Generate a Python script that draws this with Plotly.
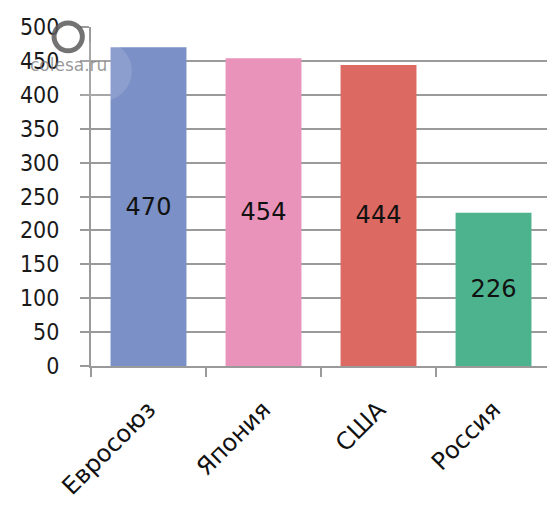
import plotly.graph_objects as go

# Chart data
categories = ["Евросоюз", "Япония", "США", "Россия"]
values = [470, 454, 444, 226]
bar_colors = ["#7b90c6", "#e993bb", "#dc6962", "#4cb38e"]
y_ticks = list(range(0, 501, 50))

FONT = "DejaVu Sans"
FONT_NARROW = "DejaVu Sans Condensed"
GRID = "#9a9a9a"

fig = go.Figure(
    go.Bar(
        x=categories,
        y=values,
        marker=dict(color=bar_colors, line=dict(width=0)),
        width=0.66,
        text=[str(v) for v in values],
        textposition="inside",
        insidetextanchor="middle",
        textangle=0,
        textfont=dict(family=FONT, size=24, color="#111111"),
        hoverinfo="skip",
    )
)

fig.update_layout(
    width=547,
    height=506,
    margin=dict(l=91, r=0, t=27, b=140),
    paper_bgcolor="white",
    plot_bgcolor="white",
    showlegend=False,
    bargap=0.34,
    xaxis=dict(
        range=[-0.5, 3.465],
        tickangle=-45,
        tickfont=dict(family=FONT, size=24, color="#111111"),
        ticklabelstandoff=18,
        showline=True,
        linecolor=GRID,
        linewidth=2,
        ticks="outside",
        tickson="boundaries",
        ticklen=9,
        tickwidth=2,
        tickcolor=GRID,
        showgrid=False,
        fixedrange=True,
    ),
    yaxis=dict(
        range=[0, 500],
        tickvals=y_ticks,
        tickfont=dict(family=FONT_NARROW, size=23, color="#1a1a1a"),
        ticklabelstandoff=16,
        showline=True,
        linecolor=GRID,
        linewidth=2,
        showgrid=True,
        gridcolor=GRID,
        gridwidth=2,
        ticks="outside",
        ticklen=9,
        tickwidth=2,
        tickcolor=GRID,
        zeroline=False,
        fixedrange=True,
    ),
)

# Site watermark: ring logo, soft glare and domain text
fig.add_shape(
    type="circle", xref="paper", yref="paper",
    x0=-0.081, x1=-0.019, y0=0.93, y1=1.012,
    line=dict(color="rgba(90,90,90,0.85)", width=5),
    fillcolor="rgba(0,0,0,0)",
)
fig.add_shape(
    type="circle", xref="paper", yref="paper",
    x0=-0.05, x1=0.09, y0=0.78, y1=0.96,
    line=dict(width=0),
    fillcolor="rgba(255,255,255,0.13)",
)
fig.add_annotation(
    text="colesa.ru", xref="paper", yref="paper",
    x=-0.05, y=0.888, xanchor="center", yanchor="middle",
    showarrow=False,
    font=dict(family=FONT, size=17, color="rgba(120,120,120,0.75)"),
)

fig.write_html("out.html")
